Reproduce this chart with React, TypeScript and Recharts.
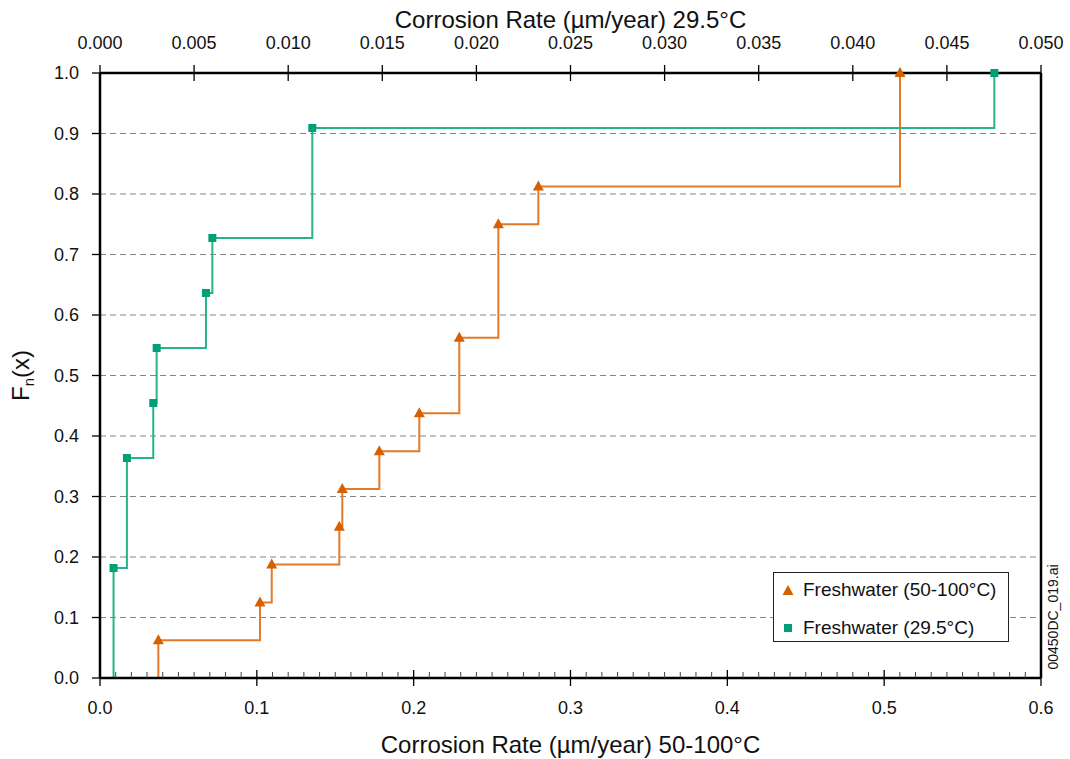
import React from 'react';
import { ComposedChart, Line, XAxis, YAxis, CartesianGrid, ReferenceLine } from 'recharts';

// Freshwater 50-100°C, bottom axis (µm/year)
const hotRate = [0.0372, 0.102, 0.1095, 0.1526, 0.1545, 0.1781, 0.2036, 0.2291, 0.254, 0.2795, 0.5101];
const hotFn = [0.0625, 0.125, 0.1875, 0.25, 0.3125, 0.375, 0.4375, 0.5625, 0.75, 0.8125, 1.0];

// Freshwater 29.5°C, top axis (µm/year)
const coldRate = [0.00072, 0.00143, 0.00283, 0.00301, 0.00563, 0.00597, 0.01128, 0.04752];
const coldFn = [0.1818, 0.3636, 0.4545, 0.5455, 0.6364, 0.7273, 0.9091, 1.0];

const topTicks = [0, 0.005, 0.01, 0.015, 0.02, 0.025, 0.03, 0.035, 0.04, 0.045, 0.05];
const yTicks = [0, 0.1, 0.2, 0.3, 0.4, 0.5, 0.6, 0.7, 0.8, 0.9, 1.0];

const hotLabel = 'Freshwater (50-100°C)';
const coldLabel = 'Freshwater (29.5°C)';

const ORANGE_LINE = '#E5792A';
const ORANGE_MARK = '#D65F00';
const GREEN_LINE = '#27B38B';
const GREEN_MARK = '#00A077';
const FONT = '"Liberation Sans", Arial, Helvetica, sans-serif';

const W = 1070;
const H = 759;

// minor ticks every 0.01 on the bottom axis
const bottomTicks: number[] = [];
for (let i = 0; i <= 60; i++) bottomTicks.push(i / 100);

// step curves start from zero at the first observation
const hotData = [{ x: hotRate[0], y: 0 }, ...hotRate.map((x, i) => ({ x, y: hotFn[i] }))];
const coldData = [{ x: coldRate[0], y: 0 }, ...coldRate.map((x, i) => ({ x, y: coldFn[i] }))];

const TriangleDot = (props: any) => {
  const { cx, cy, index } = props;
  if (index === 0 || cx == null || cy == null) return <g key={`t${index}`} />;
  return (
    <path
      key={`t${index}`}
      d={`M${cx},${cy - 6} L${cx + 5.5},${cy + 4} L${cx - 5.5},${cy + 4} Z`}
      fill={ORANGE_MARK}
    />
  );
};

const SquareDot = (props: any) => {
  const { cx, cy, index } = props;
  if (index === 0 || cx == null || cy == null) return <g key={`s${index}`} />;
  return <rect key={`s${index}`} x={cx - 4} y={cy - 4} width={8} height={8} fill={GREEN_MARK} />;
};

const BottomTick = (props: any) => {
  const { x, y, payload } = props;
  const v = payload.value;
  const major = Math.abs(v * 10 - Math.round(v * 10)) < 1e-6;
  return (
    <g>
      {major ? (
        <line x1={x} x2={x} y1={y - 8} y2={y + 8} stroke="#000" strokeWidth={1.3} />
      ) : (
        <line x1={x} x2={x} y1={y - 6} y2={y} stroke="#444" strokeWidth={1} />
      )}
      {major && (
        <text x={x} y={y + 30} dy="0.35em" textAnchor="middle" fontSize={18} fill="#111" fontFamily={FONT}>
          {v.toFixed(1)}
        </text>
      )}
    </g>
  );
};

const TopTick = (props: any) => {
  const { x, y, payload } = props;
  return (
    <g>
      <line x1={x} x2={x} y1={y - 8} y2={y + 8} stroke="#000" strokeWidth={1.3} />
      <text x={x} y={y - 30} dy="0.35em" textAnchor="middle" fontSize={18} fill="#111" fontFamily={FONT}>
        {payload.value.toFixed(3)}
      </text>
    </g>
  );
};

const LeftTick = (props: any) => {
  const { x, y, payload } = props;
  return (
    <g>
      <line x1={x - 8} x2={x} y1={y} y2={y} stroke="#000" strokeWidth={1.3} />
      <text x={x - 21} y={y} dy="0.35em" textAnchor="end" fontSize={18} fill="#111" fontFamily={FONT}>
        {payload.value.toFixed(1)}
      </text>
    </g>
  );
};

const App: React.FC = () => {
  return (
    <div
      style={{
        position: 'absolute',
        left: 0,
        top: 0,
        width: W,
        height: H,
        overflow: 'hidden',
        background: '#fff',
        fontFamily: FONT,
      }}
    >
      <ComposedChart width={W} height={H} margin={{ top: 0, right: 29, bottom: 0, left: 0 }}>
        <CartesianGrid
          xAxisId="bottom"
          yAxisId="left"
          vertical={false}
          stroke="#858585"
          strokeDasharray="6 4"
        />
        <XAxis
          xAxisId="bottom"
          type="number"
          dataKey="x"
          domain={[0, 0.6]}
          ticks={bottomTicks}
          interval={0}
          tickLine={false}
          tickSize={0}
          tickMargin={0}
          height={81}
          axisLine={{ stroke: '#000', strokeWidth: 2.5 }}
          tick={(p: any) => <BottomTick {...p} />}
          label={{
            content: (p: any) => {
              const vb = p.viewBox || { x: 100, y: 678, width: 941, height: 81 };
              return (
                <text x={vb.x + vb.width / 2} y={vb.y + 67} dy="0.35em" textAnchor="middle" fontSize={24} fill="#111" fontFamily={FONT}>
                  Corrosion Rate (µm/year) 50-100°C
                </text>
              );
            },
          }}
        />
        <XAxis
          xAxisId="top"
          orientation="top"
          type="number"
          dataKey="x"
          domain={[0, 0.05]}
          ticks={topTicks}
          interval={0}
          tickLine={false}
          tickSize={0}
          tickMargin={0}
          height={73}
          axisLine={{ stroke: '#000', strokeWidth: 2.5 }}
          tick={(p: any) => <TopTick {...p} />}
          label={{
            content: (p: any) => {
              const vb = p.viewBox || { x: 100, y: 0, width: 941, height: 73 };
              return (
                <text x={vb.x + vb.width / 2} y={vb.y + vb.height - 53} dy="0.35em" textAnchor="middle" fontSize={24} fill="#111" fontFamily={FONT}>
                  Corrosion Rate (µm/year) 29.5°C
                </text>
              );
            },
          }}
        />
        <YAxis
          yAxisId="left"
          type="number"
          domain={[0, 1]}
          ticks={yTicks}
          interval={0}
          tickLine={false}
          tickSize={0}
          tickMargin={0}
          width={100}
          axisLine={{ stroke: '#000', strokeWidth: 2.5 }}
          tick={(p: any) => <LeftTick {...p} />}
          label={{
            content: (p: any) => {
              const vb = p.viewBox || { x: 0, y: 73, width: 100, height: 605 };
              const cx = vb.x + vb.width - 79;
              const cy = vb.y + vb.height / 2;
              return (
                <text x={cx} y={cy} dy="0.35em" textAnchor="middle" fontSize={24} fill="#111" fontFamily={FONT} transform={`rotate(-90 ${cx} ${cy})`}>
                  F<tspan fontSize={15} dy={5}>n</tspan>
                  <tspan dy={-5}>(x)</tspan>
                </text>
              );
            },
          }}
        />
        <ReferenceLine xAxisId="bottom" yAxisId="left" x={0.6} stroke="#000" strokeWidth={2.5} />
        <Line
          xAxisId="bottom"
          yAxisId="left"
          data={hotData}
          dataKey="y"
          type="stepAfter"
          stroke={ORANGE_LINE}
          strokeWidth={2}
          dot={(p: any) => <TriangleDot {...p} />}
          activeDot={false}
          isAnimationActive={false}
          name={hotLabel}
        />
        <Line
          xAxisId="top"
          yAxisId="left"
          data={coldData}
          dataKey="y"
          type="stepAfter"
          stroke={GREEN_LINE}
          strokeWidth={2}
          dot={(p: any) => <SquareDot {...p} />}
          activeDot={false}
          isAnimationActive={false}
          name={coldLabel}
        />
      </ComposedChart>

      <div
        style={{
          position: 'absolute',
          left: 773,
          top: 572,
          width: 234,
          height: 68,
          border: '1.5px solid #222',
          background: '#fff',
          fontSize: 19,
          color: '#111',
        }}
      >
        <div style={{ position: 'absolute', left: 8, top: 6, display: 'flex', alignItems: 'center', height: 22 }}>
          <svg width={12} height={12} style={{ marginRight: 9 }}>
            <path d="M6,1 L11.5,11 L0.5,11 Z" fill={ORANGE_MARK} />
          </svg>
          <span>{hotLabel}</span>
        </div>
        <div style={{ position: 'absolute', left: 8, top: 44, display: 'flex', alignItems: 'center', height: 22 }}>
          <svg width={12} height={12} style={{ marginRight: 9 }}>
            <rect x={2} y={2} width={8} height={8} fill={GREEN_MARK} />
          </svg>
          <span>{coldLabel}</span>
        </div>
      </div>

      <svg width={W} height={H} style={{ position: 'absolute', left: 0, top: 0, pointerEvents: 'none' }}>
        <text
          x={1053}
          y={617}
          dy="0.35em"
          textAnchor="middle"
          fontSize={14}
          fill="#111"
          fontFamily={FONT}
          transform="rotate(-90 1053 617)"
        >
          00450DC_019.ai
        </text>
      </svg>
    </div>
  );
};

export default App;
